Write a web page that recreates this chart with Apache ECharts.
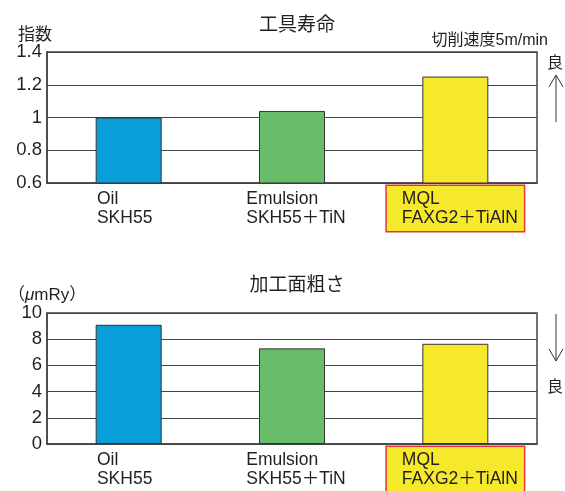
<!DOCTYPE html>
<html lang="ja">
<head>
    <meta charset="UTF-8">
    <title>工具寿命・加工面粗さ</title>
    <style>
        html, body { margin: 0; padding: 0; background: #fff; }
        #main { width: 565px; height: 491px; }
    </style>
</head>
<body>
    <div id="main"></div>
    <script src="https://cdn.jsdelivr.net/npm/echarts@6/dist/echarts.min.js"></script>
    <script>
        // カテゴリ（2行ラベル）
        var categories = ['Oil\nSKH55', 'Emulsion\nSKH55＋TiN', 'MQL\nFAXG2＋TiAlN'];
        var barColors = ['#0a9ed9', '#6abd68', '#f6e92b'];
        // 工具寿命（指数）
        var lifeValues = [1.0, 1.04, 1.25];
        // 加工面粗さ（μmRy）
        var roughValues = [9.1, 7.3, 7.65];

        var FONT = '"Liberation Sans", Arial, "Noto Sans CJK JP", sans-serif';
        var TEXT = '#231f20';

        // ラベルの左右位置の微調整
        var labelPads = [[3, 12, 3, 4], [3, 4, 3, 12], [3, 6, 3, 15]];

        function catData() {
            return categories.map(function (c, i) {
                var ts = { padding: labelPads[i] };
                if (i === 2) {  // MQL だけ黄色い枠付き
                    ts.backgroundColor = '#f6e92b';
                    ts.borderColor = '#e8333a';
                    ts.borderWidth = 1.5;
                }
                return { value: c, textStyle: ts };
            });
        }

        function xAxisOf(gridIndex) {
            return {
                type: 'category',
                gridIndex: gridIndex,
                data: catData(),
                axisTick: { show: false },
                axisLine: { lineStyle: { color: '#444', width: 1.5 } },
                axisLabel: {
                    interval: 0,
                    margin: 3,
                    formatter: function (v) {
                        return v.split('\n').map(function (s) { return '{l|' + s + '}'; }).join('\n');
                    },
                    rich: {
                        l: { align: 'left', fontSize: 17.5, lineHeight: 19.5, color: TEXT, fontFamily: FONT }
                    }
                }
            };
        }

        function yAxisOf(gridIndex, min, max, interval) {
            return {
                type: 'value',
                gridIndex: gridIndex,
                min: min,
                max: max,
                interval: interval,
                axisLine: { show: true, lineStyle: { color: '#444', width: 1.5 } },
                axisTick: { show: false },
                axisLabel: { fontSize: 18.5, color: TEXT, fontFamily: FONT, margin: 5 },
                splitLine: { lineStyle: { color: '#444', width: 1 } }
            };
        }

        function barSeries(values, idx) {
            return {
                type: 'bar',
                xAxisIndex: idx,
                yAxisIndex: idx,
                barWidth: 66,
                data: values.map(function (v, i) {
                    return { value: v, itemStyle: { color: barColors[i] } };
                }),
                itemStyle: { borderColor: '#333', borderWidth: 1 },
                silent: true
            };
        }

        var titleStyle = { fontSize: 19, fontWeight: 'normal', color: TEXT, fontFamily: FONT };
        var smallStyle = { fontSize: 16, fontWeight: 'normal', color: TEXT, fontFamily: FONT };

        var myChart = echarts.init(document.getElementById('main'));
        var option = {
            animation: false,
            title: [
                { text: '工具寿命', left: 292, top: 11, textAlign: 'center', textStyle: titleStyle },
                { text: '指数', left: 13, top: 22, textStyle: { fontSize: 17, fontWeight: 'normal', color: TEXT, fontFamily: FONT } },
                { text: '切削速度5m/min', left: 543, top: 28, textAlign: 'right', textStyle: smallStyle },
                { text: '良', left: 542, top: 51, textStyle: smallStyle },
                { text: '加工面粗さ', left: 292, top: 271, textAlign: 'center', textStyle: titleStyle },
                {
                    text: '（{i|μ}mRy）', left: 3, top: 282,
                    textStyle: {
                        fontSize: 17, fontWeight: 'normal', color: TEXT, fontFamily: FONT,
                        rich: { i: { fontSize: 17, fontStyle: 'italic', color: TEXT, fontFamily: FONT } }
                    }
                },
                { text: '良', left: 542, top: 375, textStyle: smallStyle }
            ],
            grid: [
                { left: 47, right: 28, top: 52, height: 131, outerBoundsMode: 'none', show: true, borderColor: '#444', borderWidth: 1.5, backgroundColor: '#fff' },
                { left: 47, right: 28, top: 313, height: 131, outerBoundsMode: 'none', show: true, borderColor: '#444', borderWidth: 1.5, backgroundColor: '#fff' }
            ],
            xAxis: [xAxisOf(0), xAxisOf(1)],
            yAxis: [yAxisOf(0, 0.6, 1.4, 0.2), yAxisOf(1, 0, 10, 2)],
            series: [barSeries(lifeValues, 0), barSeries(roughValues, 1)],
            graphic: [
                // 上向き矢印
                { type: 'polyline', shape: { points: [[556, 122], [556, 75]] }, style: { stroke: '#333', lineWidth: 1 } },
                { type: 'polyline', shape: { points: [[549, 87], [556, 75], [563, 87]] }, style: { stroke: '#333', lineWidth: 1, fill: null } },
                // 下向き矢印
                { type: 'polyline', shape: { points: [[556, 314], [556, 361]] }, style: { stroke: '#333', lineWidth: 1 } },
                { type: 'polyline', shape: { points: [[549, 349], [556, 361], [563, 349]] }, style: { stroke: '#333', lineWidth: 1, fill: null } }
            ]
        };
        myChart.setOption(option);
    </script>
</body>
</html>
